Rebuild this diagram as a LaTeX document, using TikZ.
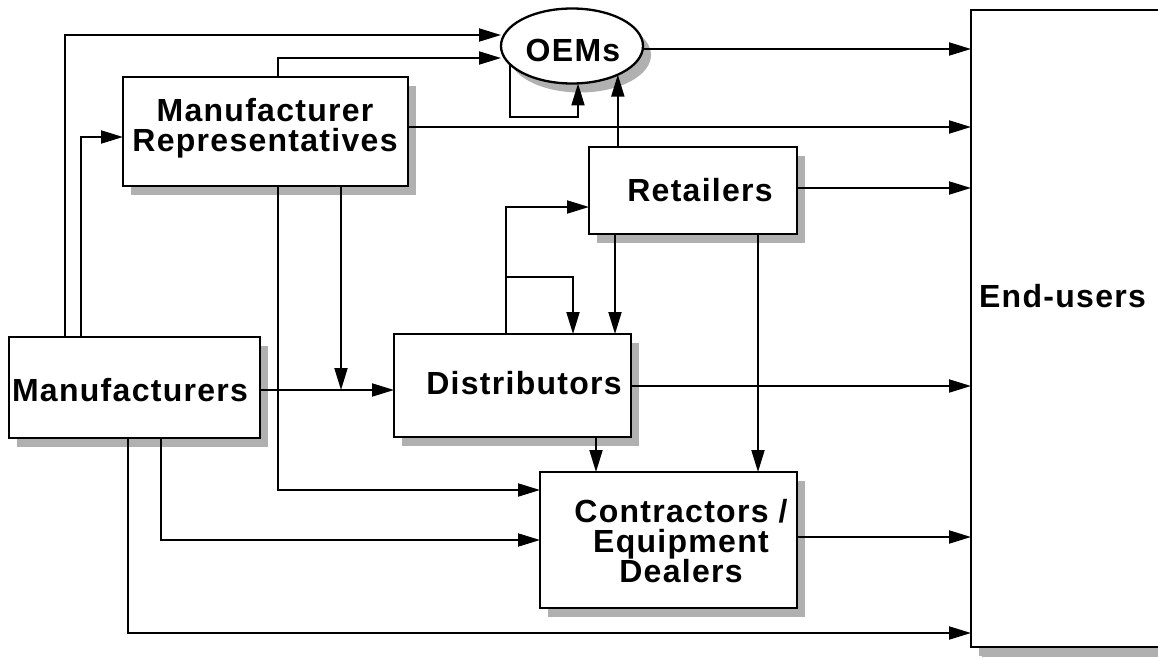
\documentclass[tikz,border=0pt]{standalone}
\usepackage{fontspec}
\setmainfont{Liberation Sans}[LetterSpace=4]
\usetikzlibrary{arrows.meta,shapes.geometric,shadows}
\definecolor{shadowgrey}{HTML}{B0B0B0}
\tikzset{
  box/.style={draw, line width=2.3pt, fill=white, inner sep=0pt, outer sep=0pt,
    general shadow={fill=shadowgrey, shadow xshift=8pt, shadow yshift=-9pt}},
  oval/.style={box, ellipse},
  label/.style={font=\bfseries\fontsize{32}{30}\selectfont, align=center, inner sep=0pt},
  link/.style={line width=1.9pt},
  arr/.style={link, -{Triangle[length=22pt, width=13pt]}},
}
\begin{document}
\begin{tikzpicture}[x=1pt, y=-1pt]
\useasboundingbox (0,0) rectangle (1158,658);

% boxes
\node[box, minimum width=251pt, minimum height=101pt] (man) at (134.5,387.5) {};
\node[box, minimum width=285pt, minimum height=109pt] (rep) at (265.5,131.5) {};
\node[oval, minimum width=142pt, minimum height=75pt] (oem) at (572,46) {};
\node[box, minimum width=208pt, minimum height=87pt] (ret) at (693,190.5) {};
\node[box, minimum width=237pt, minimum height=103pt] (dis) at (512.5,385.5) {};
\node[box, minimum width=257pt, minimum height=136pt] (con) at (668.5,540) {};
\node[box, minimum width=210pt, minimum height=637pt,
  general shadow={fill=shadowgrey, shadow xshift=11pt, shadow yshift=-10pt}] (end) at (1076,328.5) {};

% labels
\node[label] (man-t) at (130,390) {Manufacturers};
\node[label] (rep-t) at (265,128) {Manufacturer\\Representatives};
\node[label] (oem-t) at (573,50) {OEMs};
\node[label] (ret-t) at (700,190) {Retailers};
\node[label] (dis-t) at (524,383) {Distributors};
\node[label] (con-t) at (681,541) {Contractors /\\Equipment\\Dealers};
\node[label] (end-t) at (1062.5,296.5) {End-users};

% junction points on connectors
\coordinate (drop) at (341,390);
\coordinate (split) at (506,277);

% from Manufacturers
\draw[arr] (man.north -| 65,0) |- (oem.west |- 0,35);
\draw[arr] (man.north -| 81,0) |- (rep.west |- 0,137);
\draw[arr] (man.east |- 0,390) -- (dis.west |- 0,390);
\draw[arr] (man.south -| 161,0) |- (con.west |- 0,540);
\draw[arr] (man.south -| 128,0) |- (end.west |- 0,633);

% from Manufacturer Representatives
\draw[arr] (rep.north -| 278,0) |- (oem.west |- 0,58);
\draw[arr] (rep.east |- 0,127) -- (end.west |- 0,127);
\draw[arr] (rep.south -| 278,0) |- (con.west |- 0,490);
\draw[arr] (rep.south -| 341,0) -- (drop);

% from OEMs
\draw[arr] (oem.196) -- (oem.196 |- 0,117) -| (oem.south -| 578,0);
\draw[arr] (oem.east |- 0,49) -- (end.west |- 0,49);

% from Retailers
\draw[arr] (ret.north -| oem.328) -- (oem.328);
\draw[arr] (ret.east |- 0,188) -- (end.west |- 0,188);
\draw[arr] (ret.south -| 615,0) -- (dis.north -| 615,0);
\draw[arr] (ret.south -| 758,0) -- (con.north -| 758,0);

% from Distributors
\draw[arr] (dis.north -| 506,0) |- (ret.west |- 0,207);
\draw[arr] (split) -| (dis.north -| 573,0);
\draw[arr] (dis.east |- 0,386) -- (end.west |- 0,386);
\draw[arr] (dis.south -| 596,0) -- (con.north -| 596,0);

% from Contractors / Equipment Dealers
\draw[arr] (con.east |- 0,537) -- (end.west |- 0,537);
\end{tikzpicture}
\end{document}
